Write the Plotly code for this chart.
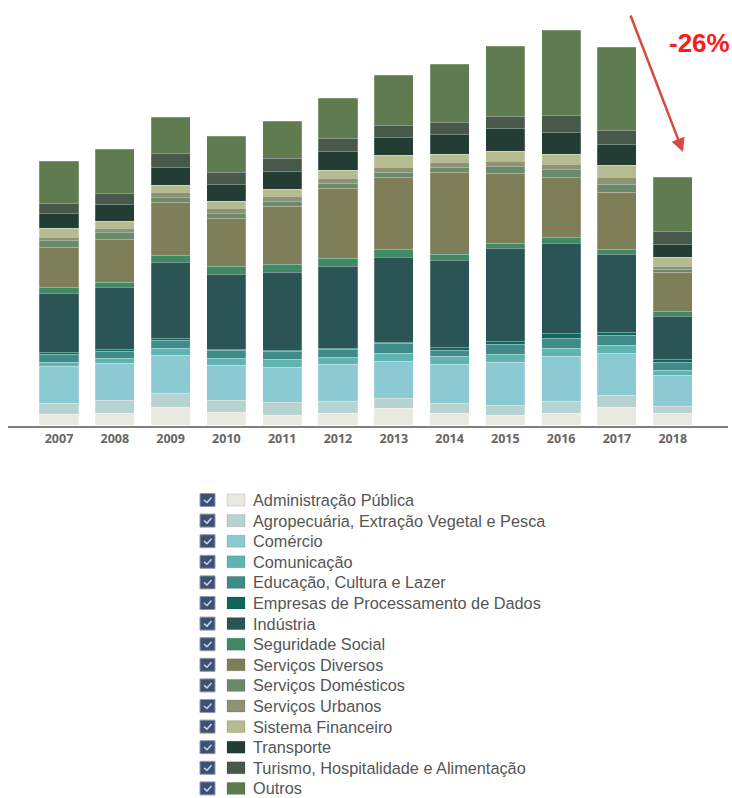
import plotly.graph_objects as go

years = ["2007", "2008", "2009", "2010", "2011", "2012", "2013", "2014", "2015", "2016", "2017", "2018"]

categories = [
    "Administração Pública",
    "Agropecuária, Extração Vegetal e Pesca",
    "Comércio",
    "Comunicação",
    "Educação, Cultura e Lazer",
    "Empresas de Processamento de Dados",
    "Indústria",
    "Seguridade Social",
    "Serviços Diversos",
    "Serviços Domésticos",
    "Serviços Urbanos",
    "Sistema Financeiro",
    "Transporte",
    "Turismo, Hospitalidade e Alimentação",
    "Outros",
]

colors = [
    "#e9e8e1", "#b7d3d1", "#8ccad3", "#5fb4b1", "#3e8b89", "#0f665c", "#2a5554",
    "#3f8a64", "#7e7f59", "#6a8a6b", "#8e9172", "#b6bc90", "#233d34", "#48584b", "#5f7c51",
]

# values (arbitrary units, no axis shown)
administracao_publica = [11, 12, 18, 13, 10, 12, 17, 12, 10, 12, 18, 12]
agropecuaria = [11, 13, 14, 12, 13, 12, 10, 10, 10, 12, 12, 7]
comercio = [37, 37, 38, 35, 35, 37, 37, 39, 43, 45, 42, 31]
comunicacao = [4, 5, 7, 7, 8, 7, 8, 8, 8, 8, 8, 5]
educacao = [8, 7, 8, 8, 8, 8, 10, 6, 10, 10, 10, 8]
empresas_dados = [2, 2, 2, 1, 1, 1, 1, 3, 3, 5, 3, 3]
industria = [59, 62, 76, 75, 78, 82, 85, 87, 93, 90, 78, 43]
seguridade_social = [6, 5, 7, 8, 8, 8, 8, 6, 5, 6, 5, 5]
servicos_diversos = [40, 43, 53, 48, 58, 70, 72, 82, 70, 60, 57, 39]
servicos_domesticos = [7, 7, 5, 5, 5, 5, 5, 5, 7, 8, 8, 3]
servicos_urbanos = [3, 4, 5, 5, 5, 5, 5, 5, 5, 5, 7, 3]
sistema_financeiro = [9, 7, 7, 7, 7, 8, 12, 8, 10, 10, 12, 9]
transporte = [15, 17, 18, 17, 18, 19, 18, 20, 23, 22, 21, 13]
turismo = [10, 11, 14, 12, 13, 13, 12, 12, 12, 17, 14, 13]
outros = [42, 44, 36, 36, 37, 40, 50, 58, 70, 85, 83, 54]

series = [
    administracao_publica, agropecuaria, comercio, comunicacao, educacao,
    empresas_dados, industria, seguridade_social, servicos_diversos,
    servicos_domesticos, servicos_urbanos, sistema_financeiro, transporte,
    turismo, outros,
]

change_label = "-26%"

W, H = 732, 798
ML, MR, MT = 8, 4, 0
PLOT_H = 426
MB = H - MT - PLOT_H
PLOT_W = W - ML - MR


def xp(px):
    return (px - ML) / PLOT_W


def yp(py):
    return (MT + PLOT_H - py) / PLOT_H


fig = go.Figure()
for name, vals, col in zip(categories, series, colors):
    fig.add_trace(go.Bar(
        x=years, y=vals, name=name,
        marker=dict(color=col, line=dict(color="rgba(255,255,255,0.35)", width=0.6)),
        width=0.7, showlegend=False,
    ))

# custom legend with checkboxes
shapes = []
annotations = []
row0, row_step = 500.0, 20.6
for i, (name, col) in enumerate(zip(categories, colors)):
    cy = row0 + i * row_step
    shapes.append(dict(type="rect", xref="paper", yref="paper",
                       x0=xp(200), x1=xp(215), y0=yp(cy + 6.5), y1=yp(cy - 6.5),
                       fillcolor="#3f5173", line=dict(color="#8c9ab4", width=1)))
    shapes.append(dict(type="path", xref="paper", yref="paper",
                       path=f"M{xp(204)},{yp(cy)} L{xp(207)},{yp(cy + 2.5)} L{xp(211.5)},{yp(cy - 2.5)}",
                       line=dict(color="#c9d3e6", width=1.5)))
    shapes.append(dict(type="rect", xref="paper", yref="paper",
                       x0=xp(227), x1=xp(245), y0=yp(cy + 6), y1=yp(cy - 6),
                       fillcolor=col, line=dict(color="rgba(0,0,0,0.12)", width=1)))
    annotations.append(dict(xref="paper", yref="paper", x=xp(251), y=yp(cy),
                            xanchor="left", yanchor="middle", showarrow=False,
                            text=name, font=dict(family="Liberation Sans", size=16.3, color="#555555")))

# red arrow and label
annotations.append(dict(xref="paper", yref="paper", x=xp(683), y=yp(152),
                        axref="pixel", ayref="pixel", ax=-53, ay=-138,
                        showarrow=True, arrowhead=2, arrowsize=1.1, arrowwidth=2.5,
                        arrowcolor="#d64b3b", text=""))
annotations.append(dict(xref="paper", yref="paper", x=xp(699), y=yp(43),
                        xanchor="center", yanchor="middle", showarrow=False,
                        text=f"<b>{change_label}</b>",
                        font=dict(family="Liberation Sans", size=26, color="#ff1a1a")))

fig.update_layout(
    width=W, height=H,
    margin=dict(l=ML, r=MR, t=MT, b=MB, pad=0),
    paper_bgcolor="white", plot_bgcolor="white",
    barmode="stack", bargap=0.3,
    showlegend=False,
    shapes=shapes, annotations=annotations,
    xaxis=dict(type="category", range=[-0.914, 11.99], showgrid=False, zeroline=False,
               showline=True, linecolor="#7f7f7f", linewidth=1.5, ticks="",
               tickfont=dict(family="Open Sans", size=12.5, color="#666666", weight="bold")),
    yaxis=dict(visible=False, range=[-1, 425]),
)

fig.write_html("out.html", config={"displayModeBar": False},
               post_script="document.body.style.margin='0';")
